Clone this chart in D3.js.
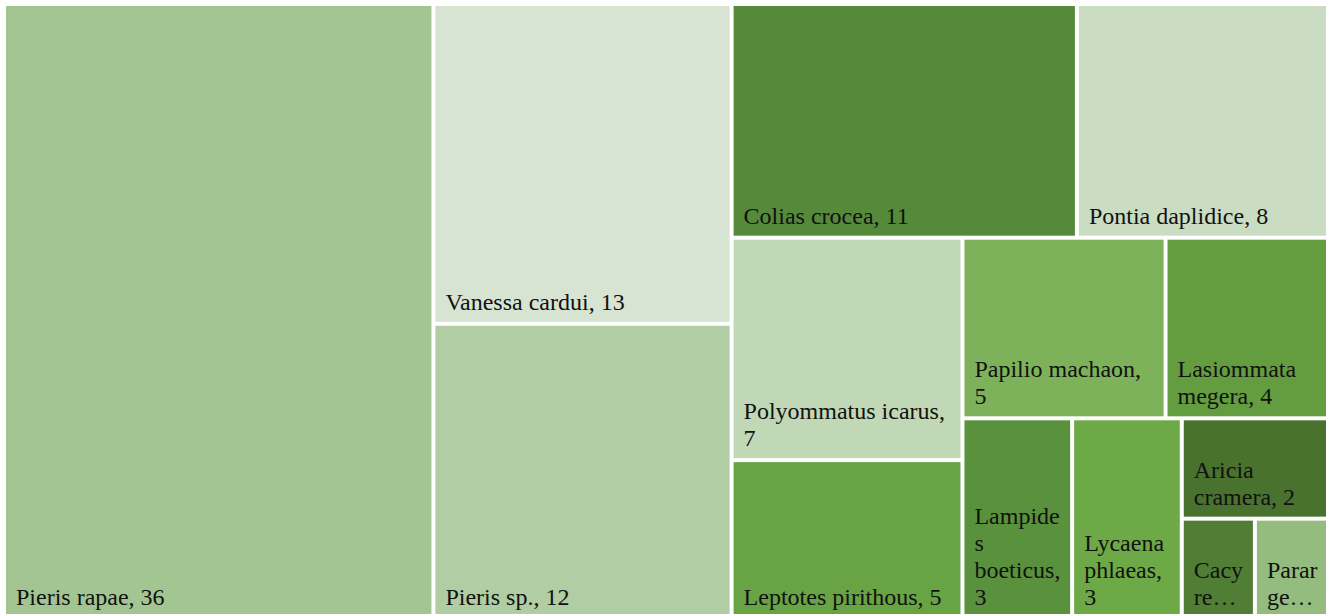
<!DOCTYPE html>
<html>
<head>
<meta charset="utf-8">
<script src="https://cdn.jsdelivr.net/npm/d3@7"></script>
<style>
  html, body { margin: 0; padding: 0; background: #fff; }
  svg { display: block; }
  svg text { font-family: "Liberation Serif", "Times New Roman", Times, serif; }
</style>
</head>
<body>
<svg id="chart" width="1330" height="614"></svg>
<script>
const species = ["Pieris rapae", "Vanessa cardui", "Pieris sp.", "Colias crocea", "Pontia daplidice",
  "Polyommatus icarus", "Leptotes pirithous", "Papilio machaon", "Lasiommata megera",
  "Lampides boeticus", "Lycaena phlaeas", "Aricia cramera", "Cacyreus marshalli", "Pararge aegeria"];
const counts = [36, 13, 12, 11, 8, 7, 5, 5, 4, 3, 3, 2, 1, 1];
const palette = ["#A2C592", "#D7E4D1", "#B0CDA3", "#568A3B", "#CADDC2",
  "#C0D8B5", "#68A344", "#7EB25A", "#649D40",
  "#5A913C", "#6DA947", "#49722F", "#4F7E34", "#93BC7E"];

const svg = d3.select("#chart");
const X0 = 6, Y0 = 6, W = 1320, H = 611;
const fontSize = 24, lineH = 27, padLeft = 10, padRight = 6, padBottom = 12;

const root = d3.hierarchy({children: species.map((s, i) => ({name: s, value: counts[i], color: palette[i]}))})
  .sum(d => d.value || 0);

d3.treemap()
  .tile(d3.treemapSquarify.ratio(1))
  .size([W, H])
  .paddingInner(4)
  .round(false)(root);

const g = svg.append("g").attr("transform", `translate(${X0},${Y0})`);

const cells = g.selectAll("g.cell").data(root.leaves()).join("g").attr("class", "cell");

cells.append("rect")
  .attr("x", d => d.x0).attr("y", d => d.y0)
  .attr("width", d => d.x1 - d.x0).attr("height", d => d.y1 - d.y0)
  .attr("fill", d => d.data.color);

const measurer = svg.append("text")
  .style("font-size", fontSize + "px").attr("visibility", "hidden");
function tw(s) { measurer.text(s); return measurer.node().getComputedTextLength(); }

function wrap(label, maxW, maxLines) {
  const words = label.split(" ");
  let lines = [];
  let cur = "";
  for (const w of words) {
    const cand = cur ? cur + " " + w : w;
    if (tw(cand) <= maxW) { cur = cand; continue; }
    if (cur) { lines.push(cur); cur = ""; }
    if (tw(w) <= maxW) { cur = w; continue; }
    let piece = "";
    for (const ch of w) {
      if (tw(piece + ch) <= maxW) piece += ch;
      else { lines.push(piece); piece = ch; }
    }
    cur = piece;
  }
  if (cur) lines.push(cur);
  if (lines.length > maxLines) {
    lines = lines.slice(0, maxLines);
    let last = lines[maxLines - 1];
    while (last.length && tw(last + "…") > maxW) last = last.slice(0, -1);
    lines[maxLines - 1] = last + "…";
  }
  return lines;
}

cells.each(function(d) {
  const w = d.x1 - d.x0, h = d.y1 - d.y0;
  const maxLines = Math.max(1, Math.floor((h - 24) / lineH));
  const lines = wrap(`${d.data.name}, ${d.data.value}`, w - padLeft - padRight, maxLines);
  const t = d3.select(this).append("text")
    .style("font-size", fontSize + "px")
    .attr("fill", "#111");
  const baseY = d.y1 - padBottom - (lines.length - 1) * lineH;
  lines.forEach((ln, i) => {
    t.append("tspan").attr("x", d.x0 + padLeft).attr("y", baseY + i * lineH).text(ln);
  });
});
measurer.remove();
</script>
</body>
</html>
